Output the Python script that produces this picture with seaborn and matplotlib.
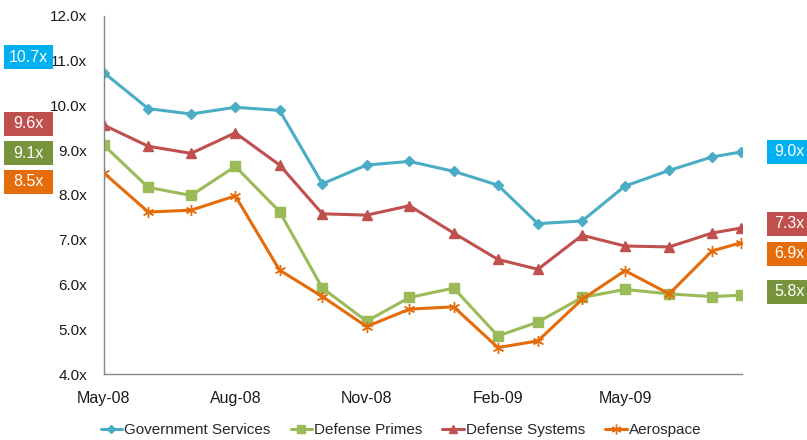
import pandas as pd
import numpy as np
import matplotlib as mpl
import matplotlib.pyplot as plt
import matplotlib.dates as mdates
from matplotlib.patches import Rectangle
import seaborn as sns

# monthly EV/EBITDA-style multiples, last point is a mid-month update
DATES = pd.to_datetime([
    "2008-05-01", "2008-06-01", "2008-07-01", "2008-08-01", "2008-09-01",
    "2008-10-01", "2008-11-01", "2008-12-01", "2009-01-01", "2009-02-01",
    "2009-03-01", "2009-04-01", "2009-05-01", "2009-06-01", "2009-07-01",
    "2009-07-21",
])
GOV_SERVICES = [10.73, 9.93, 9.81, 9.96, 9.89, 8.25, 8.67, 8.75, 8.53, 8.22,
                7.36, 7.42, 8.20, 8.55, 8.85, 8.96]
DEF_PRIMES = [9.11, 8.17, 7.99, 8.64, 7.63, 5.92, 5.18, 5.71, 5.92, 4.85,
              5.16, 5.71, 5.89, 5.79, 5.73, 5.76]
DEF_SYSTEMS = [9.56, 9.09, 8.93, 9.39, 8.67, 7.58, 7.55, 7.76, 7.15, 6.56,
               6.34, 7.10, 6.86, 6.84, 7.15, 7.26]
AEROSPACE = [8.49, 7.62, 7.66, 7.98, 6.32, 5.73, 5.06, 5.45, 5.50, 4.59,
             4.74, 5.67, 6.31, 5.79, 6.75, 6.93]

SERIES = ["Government Services", "Defense Primes", "Defense Systems", "Aerospace"]
Y_TICKS = [4, 5, 6, 7, 8, 9, 10, 11, 12]
X_TICKS = pd.to_datetime(["2008-05-01", "2008-08-01", "2008-11-01",
                          "2009-02-01", "2009-05-01"])

LINE_COLORS = {
    "Government Services": "#4BACC6",
    "Defense Primes": "#9BBB59",
    "Defense Systems": "#C0504D",
    "Aerospace": "#E46C0A",
}
BOX_COLORS = {
    "Government Services": "#00B0F0",
    "Defense Primes": "#77933C",
    "Defense Systems": "#C0504D",
    "Aerospace": "#E46C0A",
}
MARKERS = {
    "Government Services": "D",
    "Defense Primes": "s",
    "Defense Systems": "^",
    "Aerospace": (6, 2, 0),
}
MSIZE = {"Government Services": 5, "Defense Primes": 7,
         "Defense Systems": 7, "Aerospace": 8}

values = dict(zip(SERIES, [GOV_SERVICES, DEF_PRIMES, DEF_SYSTEMS, AEROSPACE]))
df = pd.concat(
    [pd.DataFrame({"date": DATES, "multiple": v, "series": k}) for k, v in values.items()],
    ignore_index=True,
)

sns.set_theme(style="white")
plt.rcParams["font.family"] = ["Liberation Sans", "DejaVu Sans"]
mpl.rcParams.update({
    "axes.edgecolor": "#868686",
    "xtick.color": "#868686",
    "ytick.color": "#868686",
    "xtick.labelcolor": "#1a1a1a",
    "ytick.labelcolor": "#1a1a1a",
})

W, H = 807, 440
fig = plt.figure(figsize=(W / 100, H / 100), dpi=100)
ax = fig.add_axes([104 / W, 1 - 374 / H, (742 - 104) / W, (374 - 16) / H])

for name in SERIES:
    sub = df[df["series"] == name]
    sns.lineplot(
        data=sub, x="date", y="multiple", ax=ax,
        color=LINE_COLORS[name], marker=MARKERS[name], markersize=MSIZE[name],
        markeredgecolor=LINE_COLORS[name], markeredgewidth=1.0,
        linewidth=2.2, label=name, legend=False,
    )

ax.set_ylim(4, 12)
ax.set_xlim(DATES[0], DATES[-1] + pd.Timedelta(days=1))
ax.set_yticks(Y_TICKS)
ax.set_yticklabels([f"{t:.1f}x" for t in Y_TICKS])
ax.set_xticks(X_TICKS)
ax.xaxis.set_major_formatter(mdates.DateFormatter("%b-%y"))
ax.tick_params(axis="x", length=4, width=1, direction="out", pad=8, labelsize=11.5)
ax.tick_params(axis="y", length=4, width=1, direction="out", pad=8, labelsize=11)
ax.set_xlabel("")
ax.set_ylabel("")
sns.despine(ax=ax, top=True, right=True)
for s in ("left", "bottom"):
    ax.spines[s].set_linewidth(1.0)

# legend
handles = [
    mpl.lines.Line2D([], [], color=LINE_COLORS[n], marker=MARKERS[n],
                     markersize=MSIZE[n] - 1, markeredgecolor=LINE_COLORS[n], linewidth=2.2)
    for n in SERIES
]
fig.legend(handles, SERIES, loc="center", bbox_to_anchor=(0.497, 1 - 430 / H),
           ncol=4, frameon=False, fontsize=11, handlelength=1.4,
           handletextpad=0.15, columnspacing=1.3)

# start / end value boxes
def value_box(x0, x1, yc, text, color):
    h = 24
    fig.patches.append(Rectangle((x0 / W, 1 - (yc + h / 2) / H), (x1 - x0) / W, h / H,
                                 transform=fig.transFigure, facecolor=color,
                                 edgecolor="none", zorder=5))
    fig.text((x0 + x1) / 2 / W, 1 - yc / H, text, color="white", fontsize=11.5,
             ha="center", va="center", zorder=6)

left_y = {"Government Services": 57, "Defense Systems": 124,
          "Defense Primes": 153, "Aerospace": 182}
right_y = {"Government Services": 152, "Defense Systems": 224,
           "Aerospace": 254, "Defense Primes": 291.5}
for name in SERIES:
    value_box(4, 53, left_y[name], f"{values[name][0]:.1f}x", BOX_COLORS[name])
    value_box(767, 812, right_y[name], f"{values[name][-1]:.1f}x", BOX_COLORS[name])

fig.savefig("out.png", dpi=100, facecolor="white")
